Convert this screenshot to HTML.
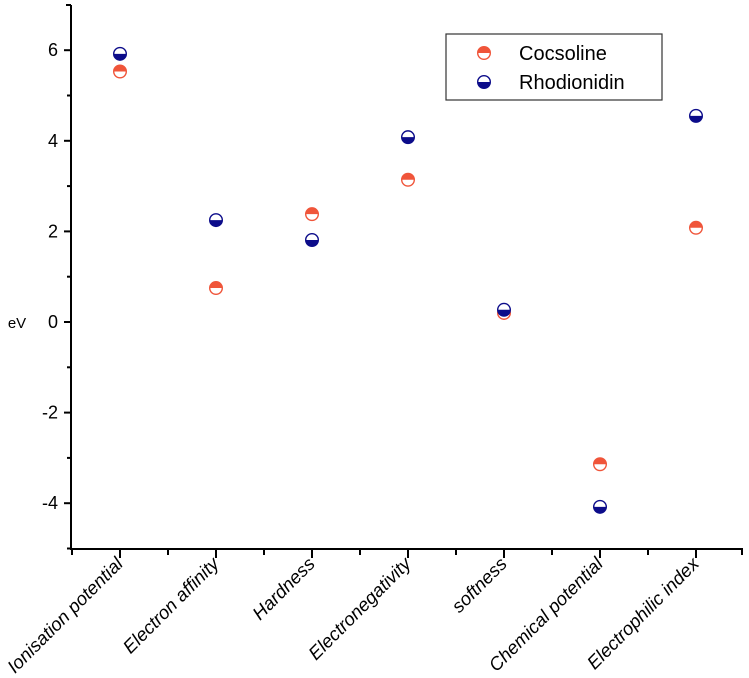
<!DOCTYPE html>
<html><head><meta charset="utf-8"><style>
html,body{margin:0;padding:0;background:#fff}
svg{display:block;font-family:"Liberation Sans",Arial,sans-serif}
</style></head><body>
<svg id="chart" width="749" height="678" viewBox="0 0 749 678"></svg>
<script>
const categories=["Ionisation potential","Electron affinity","Hardness","Electronegativity","softness","Chemical potential","Electrophilic index"];
const cocsoline=[5.53,0.75,2.38,3.14,0.2,-3.14,2.08];
const rhodionidin=[5.92,2.25,1.81,4.08,0.27,-4.08,4.55];
const yTicks=[-4,-2,0,2,4,6];
const NS="http://www.w3.org/2000/svg";
const svg=document.getElementById('chart');
const x0=71,xEnd=743,yTop=5,yBot=549;
function yScale(v){return 322-v*45.3;}
function xScale(i){return 120+i*96;}
function el(t,a,p){const e=document.createElementNS(NS,t);for(const k in a)e.setAttribute(k,a[k]);(p||svg).appendChild(e);return e;}
const axes=el('g',{});


el('line',{x1:x0,y1:yTop,x2:x0,y2:yBot+1,stroke:'#000','stroke-width':2},axes);
el('line',{x1:x0-1,y1:yBot,x2:xEnd,y2:yBot,stroke:'#000','stroke-width':2},axes);
el('line',{x1:x0-5,y1:yTop,x2:x0,y2:yTop,stroke:'#000','stroke-width':2},axes);
for(let v=-5;v<=7;v++){const y=yScale(v);if(v%2===0){el('line',{x1:x0-7,y1:y,x2:x0,y2:y,stroke:'#000','stroke-width':2},axes);}else if(v<7){el('line',{x1:x0-4,y1:y,x2:x0,y2:y,stroke:'#000','stroke-width':2},axes);}}
yTicks.forEach(v=>{const t=el('text',{x:x0-13,y:yScale(v)+6,'text-anchor':'end','font-size':18},axes);t.textContent=v;

});
const yl=el('text',{x:17,y:328,'text-anchor':'middle','font-size':15});yl.textContent='eV';


categories.forEach((c,i)=>{const x=xScale(i);
el('line',{x1:x,y1:yBot,x2:x,y2:yBot+9,stroke:'#000','stroke-width':2},axes);
el('line',{x1:x-48,y1:yBot,x2:x-48,y2:yBot+6,stroke:'#000','stroke-width':2},axes);
const t=el('text',{x:x+4,y:yBot+16,'text-anchor':'end','font-size':18.5,'font-style':'italic',transform:`rotate(-45 ${x+4} ${yBot+16})`},axes);t.textContent=c;

});
el('line',{x1:xEnd-1,y1:yBot,x2:xEnd-1,y2:yBot+6,stroke:'#000','stroke-width':2},axes);
function marker(cx,cy,color,topFilled,parent){const g=el('g',{},parent);const r=6.3;
el('circle',{cx:cx,cy:cy,r:r,fill:'#fff',stroke:color,'stroke-width':1.4},g);
const d=topFilled?`M${cx-r},${cy} A${r},${r} 0 0 1 ${cx+r},${cy} Z`:`M${cx-r},${cy} A${r},${r} 0 0 0 ${cx+r},${cy} Z`;
el('path',{d:d,fill:color},g);return g;}
const C1='#f0553a',C2='#0c0c8a';
categories.forEach((c,i)=>{
const a=marker(xScale(i),yScale(cocsoline[i]),C1,true);


const b=marker(xScale(i),yScale(rhodionidin[i]),C2,false);

});
const lg=el('g',{});


el('rect',{x:446,y:34,width:216,height:66,fill:'#fff',stroke:'#333','stroke-width':1.2},lg);
marker(484,53,C1,true,lg);marker(484,82,C2,false,lg);
const t1=el('text',{x:519,y:60,'font-size':20},lg);t1.textContent='Cocsoline';


const t2=el('text',{x:519,y:89,'font-size':20},lg);t2.textContent='Rhodionidin';


</script>
</body></html>
